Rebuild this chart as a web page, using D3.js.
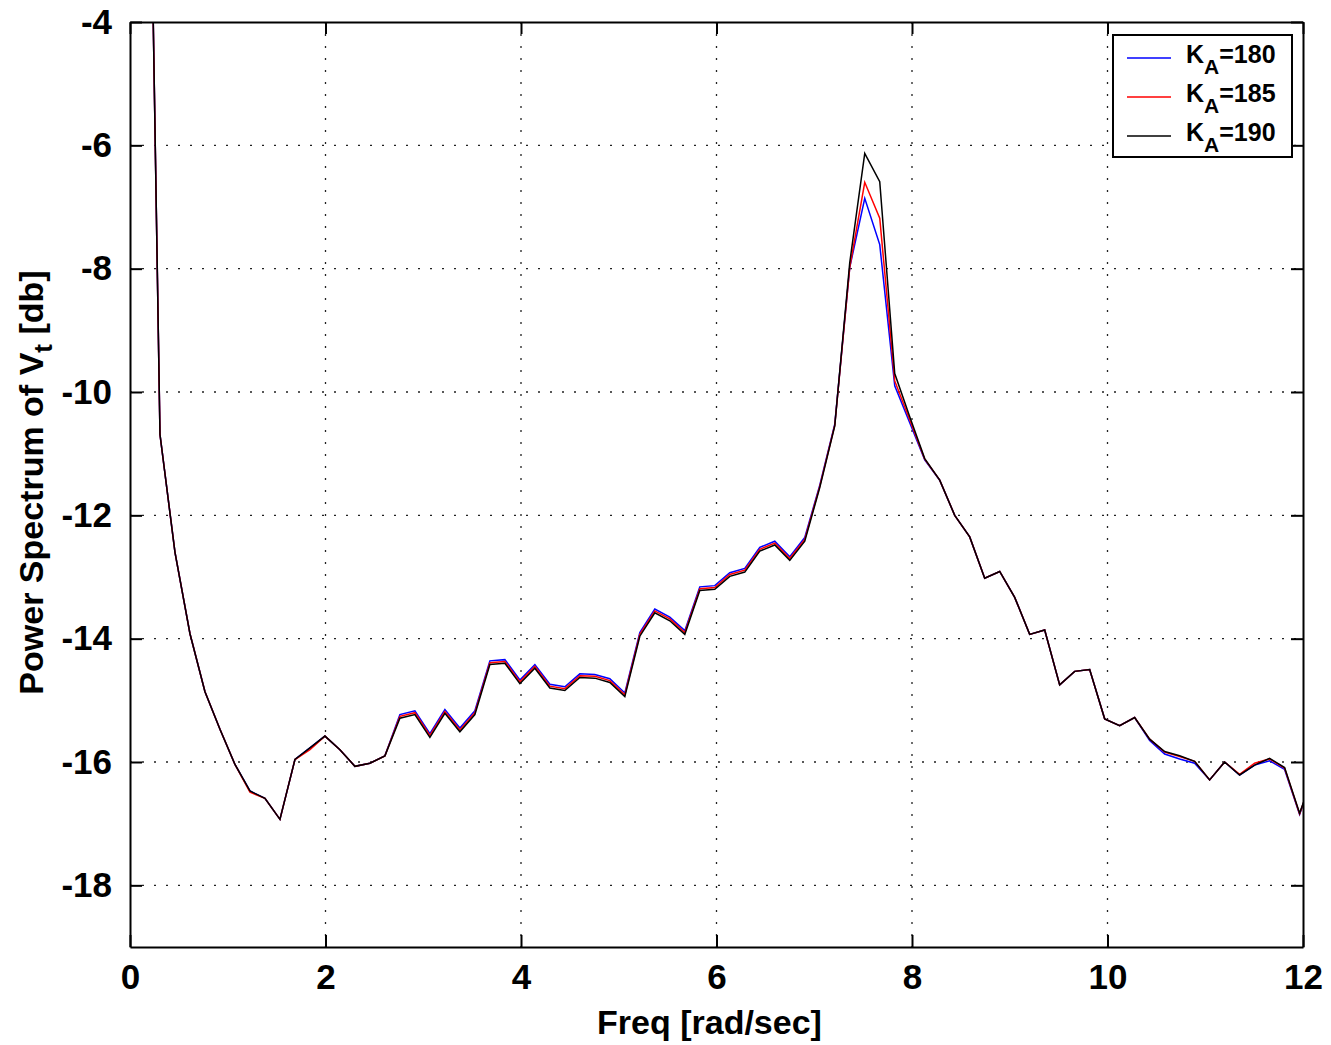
<!DOCTYPE html>
<html>
<head>
<meta charset="utf-8">
<script src="https://cdnjs.cloudflare.com/ajax/libs/d3/7.8.5/d3.min.js"></script>
<style>
  body { margin: 0; background: #fff; }
  text { font-family: "Liberation Sans", Arial, sans-serif; }
</style>
</head>
<body>
<div id="chart"></div>
<script>
// frequency grid starts at the 1st FFT bin, step in rad/sec
const freqStep = 0.1534;
const xTicks = [0, 2, 4, 6, 8, 10, 12];
const yTicks = [-18, -16, -14, -12, -10, -8, -6, -4];
const seriesNames = ["180", "185", "190"];
const seriesColors = ["#0000ff", "#ff0000", "#000000"];

// K_A = 180
const psd180 = [4.2, -10.69, -12.60, -13.92, -14.86, -15.47, -16.04, -16.47, -16.59, -16.93,
  -15.96, -15.77, -15.58, -15.80, -16.07, -16.02, -15.90, -15.23, -15.17, -15.54,
  -15.15, -15.45, -15.17, -14.36, -14.34, -14.67, -14.42, -14.74, -14.78, -14.57,
  -14.58, -14.65, -14.88, -13.90, -13.52, -13.65, -13.87, -13.16, -13.14, -12.93,
  -12.86, -12.52, -12.42, -12.67, -12.36, -11.51, -10.52, -7.98, -6.86, -7.61,
  -9.90, -10.50, -11.10, -11.43, -12.00, -12.35, -13.02, -12.91, -13.33, -13.93,
  -13.86, -14.75, -14.53, -14.50, -15.30, -15.41, -15.28, -15.65, -15.87, -15.95,
  -16.02, -16.29, -16.00, -16.21, -16.05, -15.98, -16.12, -16.85, -16.15];

// K_A = 185
const psd185 = [4.2, -10.69, -12.60, -13.92, -14.86, -15.47, -16.04, -16.49, -16.59, -16.93,
  -15.96, -15.80, -15.58, -15.80, -16.07, -16.02, -15.90, -15.26, -15.20, -15.57,
  -15.18, -15.48, -15.20, -14.39, -14.37, -14.70, -14.45, -14.77, -14.81, -14.60,
  -14.61, -14.68, -14.91, -13.93, -13.55, -13.68, -13.90, -13.19, -13.17, -12.96,
  -12.89, -12.55, -12.45, -12.70, -12.39, -11.53, -10.54, -7.98, -6.60, -7.18,
  -9.82, -10.45, -11.09, -11.43, -12.00, -12.35, -13.02, -12.91, -13.33, -13.93,
  -13.86, -14.75, -14.53, -14.50, -15.30, -15.41, -15.28, -15.63, -15.84, -15.91,
  -15.99, -16.29, -16.00, -16.20, -16.02, -15.95, -16.10, -16.84, -16.15];

// K_A = 190
const psd190 = [4.2, -10.69, -12.60, -13.92, -14.86, -15.47, -16.04, -16.47, -16.59, -16.93,
  -15.96, -15.77, -15.58, -15.80, -16.07, -16.02, -15.90, -15.29, -15.23, -15.60,
  -15.21, -15.51, -15.23, -14.42, -14.40, -14.73, -14.48, -14.80, -14.84, -14.63,
  -14.64, -14.71, -14.94, -13.96, -13.58, -13.71, -13.93, -13.22, -13.20, -12.99,
  -12.92, -12.58, -12.48, -12.73, -12.42, -11.55, -10.55, -7.90, -6.13, -6.59,
  -9.70, -10.40, -11.08, -11.43, -12.00, -12.35, -13.02, -12.91, -13.33, -13.93,
  -13.86, -14.75, -14.53, -14.50, -15.30, -15.41, -15.28, -15.63, -15.83, -15.90,
  -15.99, -16.29, -16.00, -16.21, -16.05, -15.94, -16.09, -16.83, -16.15];

const allSeries = [psd180, psd185, psd190];

let width = 1331, height = 1045;
let padLeft = 130, padTop = 22, plotW = 1173, plotH = 925;

let svg = d3.select("#chart").append("svg")
  .attr("width", width).attr("height", height);
svg.append("rect").attr("width", width).attr("height", height).attr("fill", "#fff");

let x = d3.scaleLinear().domain([0, 12]).range([0, plotW]);
let y = d3.scaleLinear().domain([-19, -4]).range([plotH, 0]);

let plot = svg.append("g").attr("transform", "translate(" + padLeft + "," + padTop + ")");

svg.append("defs").append("clipPath").attr("id", "clip")
  .append("rect").attr("width", plotW).attr("height", plotH);

// dotted grid
plot.selectAll(".gridx").data(xTicks.filter(d => d > 0 && d < 12)).enter()
  .append("line").attr("class", "gridx")
  .attr("x1", d => x(d)).attr("x2", d => x(d))
  .attr("y1", 0).attr("y2", plotH)
  .attr("stroke", "#222").attr("stroke-width", 1.3)
  .attr("stroke-dasharray", "2,10");
plot.selectAll(".gridy").data(yTicks.filter(d => d > -19 && d < -4)).enter()
  .append("line").attr("class", "gridy")
  .attr("y1", d => y(d)).attr("y2", d => y(d))
  .attr("x1", 0).attr("x2", plotW)
  .attr("stroke", "#222").attr("stroke-width", 1.3)
  .attr("stroke-dasharray", "2,10");

// spectra
let line = d3.line()
  .x((d, i) => x((i + 1) * freqStep))
  .y(d => y(d));

let lines = plot.append("g").attr("clip-path", "url(#clip)");
allSeries.forEach(function(s, i) {
  lines.append("path").datum(s)
    .attr("d", line)
    .attr("fill", "none")
    .attr("stroke", seriesColors[i])
    .attr("stroke-width", 1.5);
});

// axes, ticks pointing inward
function styleAxis(g) {
  g.select(".domain").attr("stroke", "#000").attr("stroke-width", 2);
  g.selectAll(".tick line").attr("stroke", "#000").attr("stroke-width", 2);
  g.selectAll(".tick text").attr("fill", "#000")
    .style("font-size", "35px").style("font-weight", "bold");
}
let plainNum = d => String(d);

plot.append("g")
  .call(d3.axisLeft(y).tickValues(yTicks).tickFormat(plainNum).tickSizeInner(-12).tickSizeOuter(0).tickPadding(18))
  .call(styleAxis);
plot.append("g").attr("transform", "translate(" + plotW + ",0)")
  .call(d3.axisRight(y).tickValues(yTicks).tickSizeInner(-12).tickSizeOuter(0).tickFormat(""))
  .call(styleAxis);
plot.append("g").attr("transform", "translate(0," + plotH + ")")
  .call(d3.axisBottom(x).tickValues(xTicks).tickFormat(plainNum).tickSizeInner(-12).tickSizeOuter(0).tickPadding(17))
  .call(styleAxis);
plot.append("g")
  .call(d3.axisTop(x).tickValues(xTicks).tickSizeInner(-12).tickSizeOuter(0).tickFormat(""))
  .call(styleAxis);

// axis labels
svg.append("text")
  .attr("x", padLeft + plotW / 2 - 7).attr("y", 1034)
  .attr("text-anchor", "middle")
  .style("font-size", "34px").style("font-weight", "bold")
  .text("Freq [rad/sec]");

let ylab = svg.append("text")
  .attr("transform", "translate(43," + (padTop + plotH / 2 - 2) + ") rotate(-90)")
  .attr("text-anchor", "middle")
  .style("font-size", "34px").style("font-weight", "bold");
ylab.append("tspan").text("Power Spectrum of V");
ylab.append("tspan").attr("dy", 9).style("font-size", "26px").text("t");
ylab.append("tspan").attr("dy", -9).text(" [db]");

// legend
let legend = svg.append("g").attr("transform", "translate(1113,35)");
legend.append("rect").attr("width", 179).attr("height", 122)
  .attr("fill", "#fff").attr("stroke", "#000").attr("stroke-width", 2);
seriesNames.forEach(function(n, i) {
  let ly = 23 + i * 39;
  legend.append("line")
    .attr("x1", 14).attr("x2", 58).attr("y1", ly).attr("y2", ly)
    .attr("stroke", seriesColors[i]).attr("stroke-width", 1.5);
  let t = legend.append("text").attr("x", 73).attr("y", ly + 5)
    .style("font-size", "25px").style("font-weight", "bold");
  t.append("tspan").text("K");
  t.append("tspan").attr("dy", 11).style("font-size", "21px").text("A");
  t.append("tspan").attr("dy", -11).text("=" + n);
});
</script>
</body>
</html>
